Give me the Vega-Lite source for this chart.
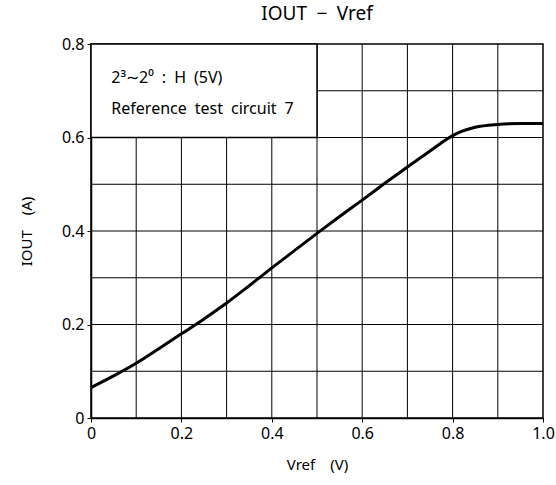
{
  "$schema": "https://vega.github.io/schema/vega-lite/v6.json",
  "autosize": "none",
  "width": 452,
  "height": 374,
  "padding": {"left": 91, "top": 44, "right": 13, "bottom": 67},
  "background": "white",
  "config": {
    "view": {"stroke": "black", "strokeWidth": 1.5},
    "font": "Noto Sans",
    "axis": {"labelFont": "Noto Sans", "titleFont": "Noto Sans", "labelColor": "black", "titleColor": "black", "labelFontSize": 16, "titleFontSize": 15, "titleFontWeight": "normal", "domainColor": "black", "domainWidth": 1.5, "tickColor": "black", "tickSize": 4, "grid": false, "labelFlush": false}
  },
  "title": {"text": "IOUT\u2002−\u2002Vref", "fontSize": 19, "fontWeight": "normal", "font": "Noto Sans", "color": "black", "offset": 12},
  "datasets": {
    "curve": [
      {"v": 0.0, "i": 0.065}, {"v": 0.05, "i": 0.09}, {"v": 0.1, "i": 0.117}, {"v": 0.15, "i": 0.148},
      {"v": 0.2, "i": 0.18}, {"v": 0.25, "i": 0.212}, {"v": 0.3, "i": 0.246}, {"v": 0.35, "i": 0.283},
      {"v": 0.4, "i": 0.321}, {"v": 0.45, "i": 0.358}, {"v": 0.5, "i": 0.395}, {"v": 0.55, "i": 0.431},
      {"v": 0.6, "i": 0.466}, {"v": 0.65, "i": 0.502}, {"v": 0.7, "i": 0.537}, {"v": 0.75, "i": 0.571},
      {"v": 0.8, "i": 0.604}, {"v": 0.82, "i": 0.613}, {"v": 0.85, "i": 0.622}, {"v": 0.9, "i": 0.628},
      {"v": 0.95, "i": 0.63}, {"v": 1.0, "i": 0.63}
    ],
    "vgrid": [{"x": 0.1}, {"x": 0.2}, {"x": 0.3}, {"x": 0.4}, {"x": 0.5}, {"x": 0.6}, {"x": 0.7}, {"x": 0.8}, {"x": 0.9}],
    "hgrid": [{"y": 0.1}, {"y": 0.2}, {"y": 0.3}, {"y": 0.4}, {"y": 0.5}, {"y": 0.6}, {"y": 0.7}],
    "box": [{"x1": 0, "x2": 0.5, "y1": 0.6, "y2": 0.8}],
    "notes": [
      {"x": 0.045, "y": 0.727, "t": "2³∼2⁰\u2002:\u2002H\u2002(5V)"},
      {"x": 0.045, "y": 0.662, "t": "Reference\u2002test\u2002circuit\u20027"}
    ]
  },
  "layer": [
    {
      "data": {"name": "vgrid"},
      "mark": {"type": "rule", "color": "black", "strokeWidth": 1},
      "encoding": {
        "x": {"field": "x", "type": "quantitative", "scale": {"domain": [0, 1]},
              "axis": {"values": [0, 0.2, 0.4, 0.6, 0.8, 1.0], "title": "Vref\u2002\u2002(V)", "titlePadding": 16, "labelPadding": 3,
                       "labelExpr": "datum.value == 0 ? '0' : format(datum.value, '.1f')"}}
      }
    },
    {
      "data": {"name": "hgrid"},
      "mark": {"type": "rule", "color": "black", "strokeWidth": 1},
      "encoding": {
        "y": {"field": "y", "type": "quantitative", "scale": {"domain": [0, 0.8]},
              "axis": {"values": [0, 0.2, 0.4, 0.6, 0.8], "title": "IOUT\u2002\u2002(A)", "titlePadding": 27, "labelPadding": 3,
                       "labelExpr": "datum.value == 0 ? '0' : format(datum.value, '.1f')"}}
      }
    },
    {
      "data": {"name": "box"},
      "mark": {"type": "rect", "fill": "white", "stroke": "black", "strokeWidth": 1.5},
      "encoding": {
        "x": {"field": "x1", "type": "quantitative"},
        "x2": {"field": "x2"},
        "y": {"field": "y1", "type": "quantitative"},
        "y2": {"field": "y2"}
      }
    },
    {
      "data": {"name": "notes"},
      "mark": {"type": "text", "align": "left", "baseline": "middle", "fontSize": 16, "color": "black", "font": "Noto Sans"},
      "encoding": {
        "x": {"field": "x", "type": "quantitative"},
        "y": {"field": "y", "type": "quantitative"},
        "text": {"field": "t"}
      }
    },
    {
      "data": {"name": "curve"},
      "mark": {"type": "line", "color": "black", "strokeWidth": 3, "interpolate": "monotone"},
      "encoding": {
        "x": {"field": "v", "type": "quantitative"},
        "y": {"field": "i", "type": "quantitative"}
      }
    }
  ]
}
